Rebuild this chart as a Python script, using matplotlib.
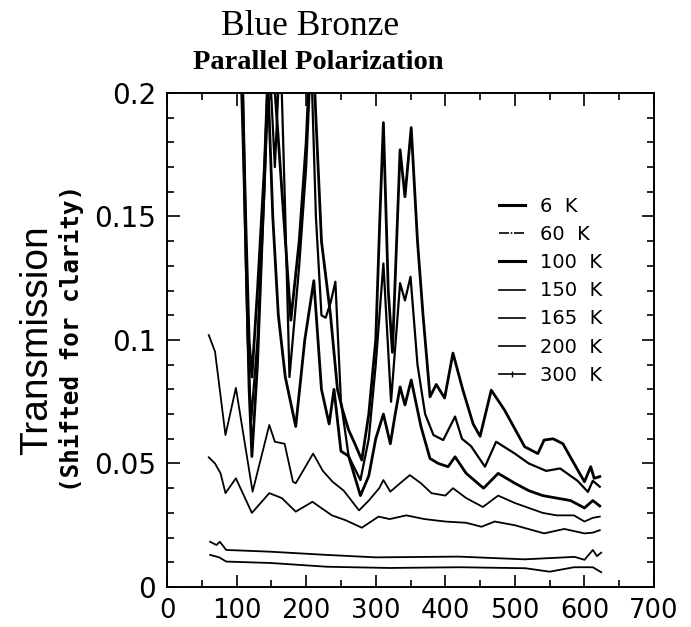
import matplotlib
matplotlib.use("Agg")
import matplotlib.pyplot as plt
from matplotlib.lines import Line2D
from matplotlib.ticker import MultipleLocator, FuncFormatter

# temperatures in legend order
temps = ["6  K", "60  K", "100  K", "150  K", "165  K", "200  K", "300  K"]

# frequency (cm^-1) and shifted transmission
x_6k = [100, 108, 113, 118, 122, 130, 140, 148, 178, 190, 200, 208, 214, 222, 235, 245, 252,
        261, 270, 280, 290, 300, 306, 311, 318, 324, 335, 342, 351, 360, 368, 378, 387, 399, 411, 425,
        440, 450, 466, 485, 500, 514, 533, 542, 555, 569, 585, 600, 609, 614, 622]
t_6k = [0.24, 0.21, 0.15, 0.10, 0.085, 0.12, 0.17, 0.23, 0.108, 0.14, 0.18, 0.23, 0.19, 0.14,
        0.11, 0.08, 0.072, 0.0636, 0.058, 0.0514, 0.07, 0.10, 0.15, 0.188, 0.12, 0.095, 0.177, 0.158,
        0.186, 0.14, 0.11, 0.077, 0.082, 0.0765, 0.0947, 0.080, 0.066, 0.061, 0.0797, 0.0717, 0.064,
        0.0568, 0.054, 0.0595, 0.060, 0.058, 0.050, 0.0426, 0.0487, 0.044, 0.0447]

x_60k = [104, 110, 116, 121, 130, 140, 147, 155, 163, 170, 176, 190, 200, 207, 214, 222, 228, 235, 242,
         250, 261, 278, 290, 300, 311, 322, 335, 342, 350, 360, 371, 383, 397, 414, 424, 437, 457, 473,
         500, 520, 545, 565, 590, 605, 612, 622]
t_60k = [0.23, 0.17, 0.10, 0.0676, 0.10, 0.16, 0.215, 0.17, 0.22, 0.15, 0.085, 0.13, 0.17, 0.215, 0.15,
         0.11, 0.109, 0.115, 0.1236, 0.075, 0.053, 0.0433, 0.06, 0.09, 0.131, 0.075, 0.123, 0.116,
         0.1256, 0.09, 0.070, 0.0615, 0.0595, 0.069, 0.060, 0.057, 0.0487, 0.0588, 0.054, 0.050, 0.047,
         0.048, 0.043, 0.0385, 0.043, 0.0406]

x_100k = [108, 113, 118, 122, 130, 138, 145, 152, 160, 170, 185, 198, 211, 222, 233, 240, 250, 261, 278,
          290, 300, 311, 321, 328, 335, 342, 351, 365, 378, 390, 404, 414, 430, 455, 476, 500, 520, 540,
          560, 580, 600, 612, 622]
t_100k = [0.21, 0.14, 0.08, 0.0528, 0.09, 0.15, 0.205, 0.15, 0.11, 0.085, 0.065, 0.10, 0.124, 0.08,
          0.066, 0.08, 0.055, 0.053, 0.037, 0.045, 0.06, 0.07, 0.058, 0.07, 0.081, 0.0737, 0.0838, 0.065,
          0.052, 0.050, 0.0487, 0.0527, 0.046, 0.040, 0.046, 0.042, 0.039, 0.037, 0.036, 0.035, 0.032,
          0.035, 0.0328]

x_150k = [60, 69, 84, 99, 123, 147, 155, 169, 181, 185, 210, 224, 238, 254, 276, 290, 305, 311, 321,
          335, 349, 365, 380, 400, 411, 430, 454, 476, 500, 520, 540, 560, 585, 600, 612, 622]
t_150k = [0.102, 0.0953, 0.0615, 0.0806, 0.0386, 0.0656, 0.0588, 0.058, 0.0426, 0.042, 0.054, 0.047,
          0.0426, 0.039, 0.031, 0.035, 0.040, 0.0433, 0.0386, 0.042, 0.0453, 0.042, 0.038, 0.037, 0.040,
          0.036, 0.0324, 0.037, 0.034, 0.032, 0.030, 0.029, 0.029, 0.0265, 0.028, 0.0285]

x_165k = [60, 69, 77, 84, 99, 122, 147, 165, 185, 209, 237, 257, 280, 304, 320, 344, 370, 400, 430, 452,
          471, 500, 542, 571, 600, 612, 622]
t_165k = [0.0525, 0.050, 0.046, 0.038, 0.044, 0.030, 0.038, 0.036, 0.0305, 0.0345, 0.029, 0.027, 0.024,
          0.0285, 0.0275, 0.029, 0.0275, 0.0265, 0.026, 0.0244, 0.0265, 0.025, 0.0217, 0.0235, 0.0217,
          0.022, 0.023]

x_200k = [62, 71, 76, 85, 148, 229, 300, 419, 514, 586, 600, 612, 618, 624]
t_200k = [0.0183, 0.017, 0.0183, 0.015, 0.0143, 0.013, 0.012, 0.0123, 0.0112, 0.0122, 0.011, 0.015,
          0.0125, 0.0139]

x_300k = [62, 75, 85, 150, 230, 320, 420, 515, 550, 585, 612, 624]
t_300k = [0.013, 0.012, 0.0103, 0.0097, 0.0082, 0.0077, 0.008, 0.0076, 0.0062, 0.008, 0.008, 0.006]

xs = [x_6k, x_60k, x_100k, x_150k, x_165k, x_200k, x_300k]
ts = [t_6k, t_60k, t_100k, t_150k, t_165k, t_200k, t_300k]
widths = [2.0, 1.6, 2.0, 1.3, 1.3, 1.3, 1.3]

fig = plt.figure(figsize=(6.91, 6.27), dpi=100)
ax = fig.add_axes([0.2417, 0.0638, 0.7048, 0.7879])

for x, t, lw in zip(xs, ts, widths):
    ax.plot(x, t, color="black", lw=lw)

ax.set_xlim(0, 700)
ax.set_ylim(0, 0.2)
ax.xaxis.set_major_locator(MultipleLocator(100))
ax.xaxis.set_minor_locator(MultipleLocator(50))
ax.yaxis.set_major_locator(MultipleLocator(0.05))
ax.yaxis.set_minor_locator(MultipleLocator(0.01))
ax.yaxis.set_major_formatter(FuncFormatter(lambda v, p: "0" if v == 0 else ("%.2f" % v).rstrip("0")))
ax.tick_params(which="both", direction="in", top=True, right=True, width=1.2)
ax.tick_params(which="major", length=9, pad=8)
ax.tick_params(which="minor", length=5)
ax.tick_params(axis="x", labelsize=18.5)
ax.tick_params(axis="y", labelsize=20)
for s in ax.spines.values():
    s.set_linewidth(1.4)

# legend proxies
handles = []
styles = [dict(lw=2.2), dict(lw=1.2, ls=(0, (6, 1, 1, 1))), dict(lw=2.2), dict(lw=1.2),
          dict(lw=1.2), dict(lw=1.2), dict(lw=1.2, marker="|", markersize=5)]
for st in styles:
    handles.append(Line2D([], [], color="black", **st))
leg = ax.legend(handles, temps, loc="upper left", bbox_to_anchor=(0.645, 0.825), frameon=False,
                fontsize=14, handlelength=1.35, handletextpad=0.8, labelspacing=0.47, numpoints=1)

fig.text(0.449, 0.957, "Blue Bronze", ha="center", va="center", family="Liberation Serif", fontsize=25.5)
fig.text(0.461, 0.9, "Parallel Polarization", ha="center", va="center", family="Liberation Serif",
         fontsize=20.5, weight="bold")
fig.text(0.054, 0.458, "Transmission", rotation=90, ha="center", va="center",
         family="Liberation Sans", fontsize=28)
fig.text(0.104, 0.46, "(Shifted for clarity)", rotation=90, ha="center", va="center",
         family="DejaVu Sans Mono", fontsize=17.5, weight="bold")

fig.savefig("out.png", dpi=100)
